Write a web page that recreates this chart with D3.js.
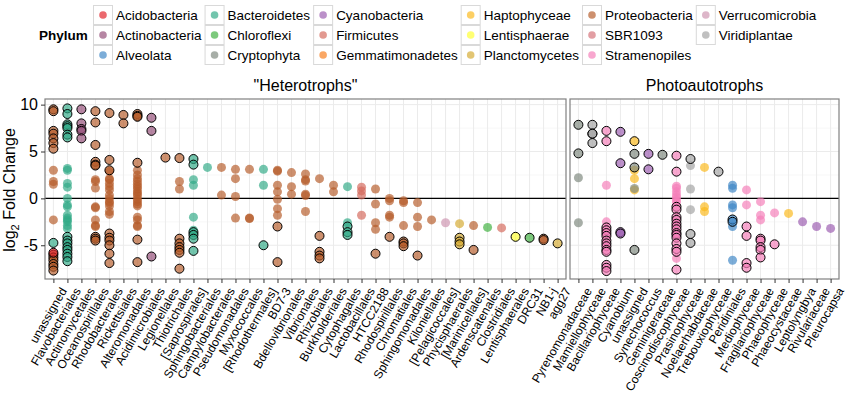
<!DOCTYPE html>
<html>
<head>
<meta charset="utf-8">
<title>Log2 fold change by order</title>
<script src="https://d3js.org/d3.v7.min.js"></script>
<style>
  body { margin: 0; background: #fff; }
  text { font-family: "Liberation Sans", Arial, Helvetica, sans-serif; fill: #000; }
</style>
</head>
<body>
<script>
// phyla and their colours (legend order)
const phyla = ["Acidobacteria", "Actinobacteria", "Alveolata", "Bacteroidetes", "Chloroflexi",
  "Cryptophyta", "Cyanobacteria", "Firmicutes", "Gemmatimonadetes", "Haptophyceae",
  "Lentisphaerae", "Planctomycetes", "Proteobacteria", "SBR1093", "Stramenopiles",
  "Verrucomicrobia", "Viridiplantae"];
const phylumColors = ["#e22229", "#944c77", "#3e86c6", "#30a986", "#3eb03e",
  "#7e887e", "#9b5bb0", "#d4695b", "#f87e1a", "#fbb81a",
  "#ffff30", "#d4a930", "#b65b29", "#d47077", "#f57eb8",
  "#cd94b0", "#a2a2a2"];

const hetOrders = ["unassigned", "Flavobacteriales", "Actinomycetales", "Oceanospirillales",
  "Rhodobacterales", "Rickettsiales", "Alteromonadales", "Acidimicrobiales", "Legionellales",
  "Thiotrichales", "[Saprospirales]", "Sphingobacteriales", "Campylobacterales",
  "Pseudomonadales", "Myxococcales", "[Rhodothermales]", "BD7-3", "Bdellovibrionales",
  "Vibrionales", "Rhizobiales", "Burkholderiales", "Cytophagales", "Lactobacillales",
  "HTCC2188", "Rhodospirillales", "Chromatiales", "Sphingomonadales", "Kiloniellales",
  "[Pelagicoccales]", "Phycisphaerales", "[Marinicellales]", "Ardenscatenales",
  "Clostridiales", "Lentisphaerales", "DRC31", "NB1-j", "agg27"];

const photoOrders = ["Pyrenomonadaceae", "Mamiellophyceae", "Bacillariophyceae", "Cyanobium",
  "unassigned", "Synechococcus", "Geminigeraceae", "Coscinodiscophyceae", "Prasinophyceae",
  "Noelaerhabdaceae", "Trebouxiophyceae", "Peridiniales", "Mediophyceae",
  "Fragilariophyceae", "Phaeophyceae", "Phaeocystaceae", "Leptolyngbya", "Rivulariaceae",
  "Pleurocapsa"];

// [order, phylum, significant, log2 fold changes]
const hetPoints = [
  ["unassigned", "Proteobacteria", 0, [3.0, 1.8, 1.5, -2.3]],
  ["unassigned", "Proteobacteria", 1, [9.5, 9.3, 7.2, 6.9, 6.4, 5.9, 5.3, -6.0, -6.3, -6.6, -7.0, -7.3, -7.7]],
  ["unassigned", "Bacteroidetes", 1, [-4.75]],
  ["unassigned", "Acidobacteria", 1, [-5.8]],
  ["Flavobacteriales", "Bacteroidetes", 0, [3.2, 3.0, 1.6, 1.2, 0, -0.7, -0.9, -1.8, -2.1, -2.3, -2.5, -2.9, -3.2]],
  ["Flavobacteriales", "Bacteroidetes", 1, [9.6, 9.0, 7.9, 7.7, 7.5, 6.8, 6.5, -4.1, -4.5, -4.8, -5.2, -5.5, -5.9, -6.25, -6.7]],
  ["Actinomycetales", "Actinobacteria", 1, [9.5, 8.0, 7.4, 7.2, 6.4]],
  ["Oceanospirillales", "Proteobacteria", 0, [2.0, 1.8, 1.1, -0.9, -1.0, -2.3, -2.9, -3.0]],
  ["Oceanospirillales", "Proteobacteria", 1, [9.3, 8.1, 5.7, 3.9, 3.6, 3.5, -4.1, -4.3, -4.5]],
  ["Rhodobacterales", "Proteobacteria", 0, [2.9, 2.1, 2.0, 1.6, 1.25, 0.9, 0.35, 0, -0.35, -0.5, -0.8, -1.4, -1.7]],
  ["Rhodobacterales", "Proteobacteria", 1, [9.1, 4.1, 3.0, -3.75, -4.2, -4.5, -5.0, -5.9, -6.9]],
  ["Rickettsiales", "Proteobacteria", 1, [8.9, 8.0]],
  ["Alteromonadales", "Proteobacteria", 0, [3.0, 2.5, 2.1, 1.8, 1.5, 1.25, 1.0, 0.7, 0.5, 0.25, -0.1, -0.35, -0.6, -0.8, -2.0, -2.3, -2.9, -3.0]],
  ["Alteromonadales", "Proteobacteria", 1, [9.0, 8.8, 8.7, 3.8, -4.4, -6.8]],
  ["Acidimicrobiales", "Actinobacteria", 1, [8.6, 7.2, -6.2]],
  ["Legionellales", "Proteobacteria", 1, [4.35]],
  ["Thiotrichales", "Proteobacteria", 0, [1.8, 1.0]],
  ["Thiotrichales", "Proteobacteria", 1, [4.3, -4.3, -4.8, -5.2, -5.5, -5.8, -7.5]],
  ["[Saprospirales]", "Bacteroidetes", 0, [2.0, 1.4, -2.0, -3.4]],
  ["[Saprospirales]", "Bacteroidetes", 1, [4.2, 3.6, -3.6, -3.9, -4.3, -5.6]],
  ["Sphingobacteriales", "Bacteroidetes", 0, [3.3]],
  ["Campylobacterales", "Proteobacteria", 0, [3.3, 0.35]],
  ["Pseudomonadales", "Proteobacteria", 0, [3.1, 2.1, 0.2, -2.1]],
  ["Myxococcales", "Proteobacteria", 0, [3.1, -2.1, -2.15]],
  ["[Rhodothermales]", "Bacteroidetes", 0, [3.1, 1.4]],
  ["[Rhodothermales]", "Bacteroidetes", 1, [-5.0]],
  ["BD7-3", "Proteobacteria", 0, [3.0, 2.9, 1.4, 0.7, -0.1, -1.1, -1.8]],
  ["BD7-3", "Proteobacteria", 1, [-3.0, -6.8]],
  ["Bdellovibrionales", "Proteobacteria", 0, [2.75, 1.25, 0.45]],
  ["Vibrionales", "Proteobacteria", 0, [2.6, 2.0, 1.85, 0.45, 0.3, -1.4]],
  ["Rhizobiales", "Proteobacteria", 0, [2.1]],
  ["Rhizobiales", "Proteobacteria", 1, [-4.0, -5.7, -6.1, -6.4]],
  ["Burkholderiales", "Proteobacteria", 0, [1.4, 0.7]],
  ["Cytophagales", "Bacteroidetes", 0, [1.25, -2.6]],
  ["Cytophagales", "Bacteroidetes", 1, [-3.0, -3.6, -3.9]],
  ["Lactobacillales", "Firmicutes", 0, [1.2, 0.8, 0.35, -1.8]],
  ["HTCC2188", "Proteobacteria", 0, [1.0, -0.6, -2.6, -3.3]],
  ["HTCC2188", "Proteobacteria", 1, [-5.9]],
  ["Rhodospirillales", "Proteobacteria", 0, [0, -0.25, -1.8, -2.0]],
  ["Rhodospirillales", "Proteobacteria", 1, [-4.1]],
  ["Chromatiales", "Proteobacteria", 0, [-0.25, -0.45, -2.9]],
  ["Chromatiales", "Proteobacteria", 1, [-4.6, -4.8, -5.1]],
  ["Sphingomonadales", "Proteobacteria", 0, [-0.45, -2.0, -3.0]],
  ["Sphingomonadales", "Proteobacteria", 1, [-6.1]],
  ["Kiloniellales", "Proteobacteria", 0, [-2.3]],
  ["[Pelagicoccales]", "Verrucomicrobia", 0, [-2.6]],
  ["Phycisphaerales", "Planctomycetes", 0, [-2.7]],
  ["Phycisphaerales", "Planctomycetes", 1, [-4.2, -4.6, -4.9]],
  ["[Marinicellales]", "Proteobacteria", 0, [-2.9]],
  ["[Marinicellales]", "Proteobacteria", 1, [-5.5]],
  ["Ardenscatenales", "Chloroflexi", 0, [-3.1]],
  ["Clostridiales", "Firmicutes", 0, [-3.15]],
  ["Lentisphaerales", "Lentisphaerae", 1, [-4.1]],
  ["DRC31", "Chloroflexi", 1, [-4.2]],
  ["NB1-j", "Proteobacteria", 1, [-4.3, -4.45]],
  ["agg27", "Planctomycetes", 1, [-4.8]]
];

const photoPoints = [
  ["Pyrenomonadaceae", "Cryptophyta", 0, [2.2, -2.6]],
  ["Pyrenomonadaceae", "Cryptophyta", 1, [7.85, 4.8]],
  ["Mamiellophyceae", "Viridiplantae", 1, [7.85, 6.9, 5.9, 6.9]],
  ["Bacillariophyceae", "Stramenopiles", 0, [1.4, -2.5]],
  ["Bacillariophyceae", "Stramenopiles", 1, [7.2, 6.1, -3.1, -3.4, -3.7, -4.0, -4.5, -4.8, -5.1, -5.5, -5.7, -7.1, -7.4, -7.75]],
  ["Cyanobium", "Cyanobacteria", 1, [7.1, 3.75, -3.6, -3.75]],
  ["unassigned", "Haptophyceae", 0, [3.0, 2.1, 0.9]],
  ["unassigned", "Cryptophyta", 0, [1.05]],
  ["unassigned", "Haptophyceae", 1, [6.1]],
  ["unassigned", "Cryptophyta", 1, [4.75, 3.3, -5.5]],
  ["Synechococcus", "Cyanobacteria", 1, [4.75, 3.1]],
  ["Geminigeraceae", "Cryptophyta", 1, [4.65]],
  ["Coscinodiscophyceae", "Stramenopiles", 0, [1.3, 1.07, 0.7, 0.35, 0.1, -0.2, -0.45, -6.4]],
  ["Coscinodiscophyceae", "Stramenopiles", 1, [4.55, 2.85, -0.9, -1.2, -2.0, -2.3, -2.7, -3.0, -3.3, -3.7, -3.9, -4.2, -4.8, -5.4, -5.7, -7.6]],
  ["Prasinophyceae", "Viridiplantae", 0, [3.5, 1.0, -1.2]],
  ["Prasinophyceae", "Viridiplantae", 1, [4.2, -3.8, -4.75]],
  ["Noelaerhabdaceae", "Haptophyceae", 0, [3.3, -0.9, -1.4]],
  ["Trebouxiophyceae", "Viridiplantae", 1, [2.85]],
  ["Peridiniales", "Alveolata", 0, [1.4, 1.07, -0.7, -1.0, -3.0, -6.6]],
  ["Peridiniales", "Alveolata", 1, [-2.25, -2.5]],
  ["Mediophyceae", "Stramenopiles", 0, [0.9, -0.7]],
  ["Mediophyceae", "Stramenopiles", 1, [-3.0, -4.0, -6.9, -7.4]],
  ["Fragilariophyceae", "Stramenopiles", 0, [-0.35, -1.8, -2.3]],
  ["Fragilariophyceae", "Stramenopiles", 1, [-4.3, -4.5, -5.2, -5.5, -6.3]],
  ["Phaeophyceae", "Stramenopiles", 0, [-1.55]],
  ["Phaeophyceae", "Stramenopiles", 1, [-4.9]],
  ["Phaeocystaceae", "Haptophyceae", 0, [-1.6]],
  ["Leptolyngbya", "Cyanobacteria", 0, [-2.5]],
  ["Rivulariaceae", "Cyanobacteria", 0, [-3.0]],
  ["Pleurocapsa", "Cyanobacteria", 0, [-3.2]]
];

const yTicks = [-5, 0, 5, 10];
const yMinor = [-7.5, -2.5, 2.5, 7.5];

// ---- layout ----
let width = 851, height = 396;
let plotTop = 99, plotBottom = 279;

let svg = d3.select("body").append("svg")
  .attr("width", width)
  .attr("height", height);

let color = d3.scaleOrdinal().domain(phyla).range(phylumColors);
let y = d3.scaleLinear().domain([-8.6, 10.6]).range([plotBottom, plotTop]);

let panels = [
  { title: "\"Heterotrophs\"", orders: hetOrders, points: hetPoints, x0: 45, x1: 566 },
  { title: "Photoautotrophs", orders: photoOrders, points: photoPoints, x0: 570, x1: 839 }
];

panels.forEach(p => {
  let x = d3.scalePoint().domain(p.orders).range([p.x0, p.x1]).padding(0.6);
  let g = svg.append("g");

  // grid
  g.selectAll(".ym").data(yMinor).join("line")
    .attr("x1", p.x0).attr("x2", p.x1)
    .attr("y1", d => y(d)).attr("y2", d => y(d))
    .attr("stroke", "#f2f2f2").attr("stroke-width", 0.6);
  g.selectAll(".yM").data(yTicks).join("line")
    .attr("x1", p.x0).attr("x2", p.x1)
    .attr("y1", d => y(d)).attr("y2", d => y(d))
    .attr("stroke", "#ebebeb").attr("stroke-width", 1);
  g.selectAll(".xg").data(p.orders).join("line")
    .attr("x1", d => x(d)).attr("x2", d => x(d))
    .attr("y1", plotTop).attr("y2", plotBottom)
    .attr("stroke", "#ebebeb").attr("stroke-width", 1);

  // zero line
  g.append("line")
    .attr("x1", p.x0).attr("x2", p.x1)
    .attr("y1", y(0)).attr("y2", y(0))
    .attr("stroke", "#000").attr("stroke-width", 1.3);

  // points: non-significant first, outlined ones on top
  let pts = [];
  p.points.filter(d => !d[2]).concat(p.points.filter(d => d[2])).forEach(d => {
    d[3].forEach(v => pts.push({ order: d[0], phylum: d[1], sig: d[2], value: v }));
  });
  g.selectAll("circle").data(pts).join("circle")
    .attr("cx", d => x(d.order))
    .attr("cy", d => y(d.value))
    .attr("r", 4.5)
    .attr("fill", d => color(d.phylum))
    .attr("fill-opacity", 0.68)
    .attr("stroke", d => d.sig ? "#000" : "none")
    .attr("stroke-width", 1);

  // panel border
  g.append("rect")
    .attr("x", p.x0).attr("y", plotTop)
    .attr("width", p.x1 - p.x0).attr("height", plotBottom - plotTop)
    .attr("fill", "none").attr("stroke", "#808080").attr("stroke-width", 1.2);

  // strip title
  g.append("text")
    .attr("x", (p.x0 + p.x1) / 2).attr("y", 91)
    .attr("text-anchor", "middle")
    .style("font-size", "16px")
    .text(p.title);

  // x axis
  let xa = g.append("g")
    .attr("transform", `translate(0,${plotBottom})`)
    .call(d3.axisBottom(x).tickSize(4).tickPadding(2));
  xa.select(".domain").remove();
  xa.selectAll(".tick line").attr("stroke", "#333");
  xa.selectAll(".tick text")
    .style("font-size", "12px")
    .attr("text-anchor", "end")
    .attr("dy", "0.3em")
    .attr("transform", "translate(5,7) rotate(-60)");
});

// y axis
let ya = svg.append("g")
  .attr("transform", "translate(45,0)")
  .call(d3.axisLeft(y).tickValues(yTicks).tickSize(4).tickPadding(3));
ya.select(".domain").remove();
ya.selectAll(".tick line").attr("stroke", "#333");
ya.selectAll(".tick text").style("font-size", "16px").text(d => d < 0 ? "-" + Math.abs(d) : d);

let yl = svg.append("text")
  .attr("transform", "translate(15,190) rotate(-90)")
  .attr("text-anchor", "middle")
  .style("font-size", "16px");
yl.append("tspan").text("log");
yl.append("tspan").attr("dy", 4).style("font-size", "11px").text("2");
yl.append("tspan").attr("dy", -4).text(" Fold Change");

// legend
let legend = svg.append("g");
legend.append("text")
  .attr("x", 39).attr("y", 35).attr("dy", "0.35em")
  .style("font-size", "13.5px").style("font-weight", "bold")
  .text("Phylum");

let lx = 93, nRows = 3;
for (let c = 0; c * nRows < phyla.length; c++) {
  let names = phyla.slice(c * nRows, c * nRows + nRows);
  let maxW = 0;
  names.forEach((name, r) => {
    let ky = 5 + r * 20;
    legend.append("rect")
      .attr("x", lx + 0.5).attr("y", ky + 0.5)
      .attr("width", 19).attr("height", 19)
      .attr("fill", "#fff").attr("stroke", "#d9d9d9");
    legend.append("circle")
      .attr("cx", lx + 10).attr("cy", ky + 10).attr("r", 3.8)
      .attr("fill", color(name)).attr("fill-opacity", 0.68);
    let t = legend.append("text")
      .attr("x", lx + 23).attr("y", ky + 10).attr("dy", "0.35em")
      .style("font-size", "13.5px")
      .text(name);
    maxW = Math.max(maxW, t.node().getComputedTextLength());
  });
  lx += 23 + maxW + 3;
}
</script>
</body>
</html>
